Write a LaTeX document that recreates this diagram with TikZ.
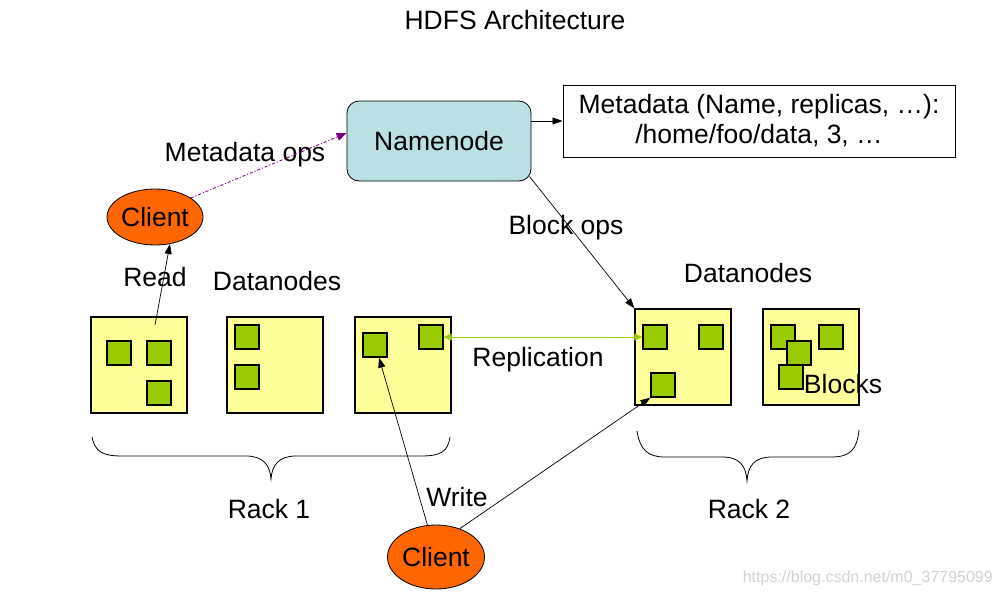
\documentclass[tikz,border=0pt]{standalone}
\usepackage{fontspec}
\setmainfont{Liberation Sans}
\usetikzlibrary{arrows.meta,shapes.geometric,calc}
\definecolor{nnblue}{HTML}{B9E0E3}
\definecolor{clorange}{HTML}{FF6600}
\definecolor{dnyellow}{HTML}{FFFF99}
\definecolor{blkgreen}{HTML}{99CC00}
\definecolor{mdpurple}{HTML}{800080}
\tikzset{
  lbl/.style={inner sep=0pt, text height=19pt, text depth=0pt},
  namebox/.style={draw, fill=nnblue, rounded corners=12pt, line width=0.8pt, minimum width=184pt, minimum height=80pt, inner sep=0pt, text height=19pt, text depth=0pt},
  metabox/.style={draw, fill=white, line width=1pt, minimum width=392pt, minimum height=72pt, inner sep=0pt, align=center},
  clientnode/.style={draw, fill=clorange, ellipse, line width=0.8pt, inner sep=0pt, text height=19pt, text depth=0pt},
  rackbox/.style={draw, fill=dnyellow, line width=1.3pt, minimum width=96pt, minimum height=96pt, inner sep=0pt},
  blk/.style={draw, fill=blkgreen, line width=1.3pt, minimum width=24pt, minimum height=24pt, inner sep=0pt},
  arr/.style={-{Triangle[length=10pt,width=7pt]}, line width=0.7pt},
  mdarr/.style={-{Triangle[length=10pt,width=8pt]}, draw=mdpurple, line width=0.9pt, dash pattern=on 3pt off 2pt on 1pt off 2pt},
  reparr/.style={{Triangle[length=8pt,width=7pt]}-{Triangle[length=8pt,width=7pt]}, draw=blkgreen, line width=1pt},
  bracestyle/.style={line width=0.8pt}
}
\begin{document}
\begin{tikzpicture}[x=1pt,y=-1pt,font=\fontsize{26.5}{30}\selectfont]
\useasboundingbox (0,0) rectangle (1001,597);

\node[lbl] (title) at (515,20) {HDFS Architecture};

\node[namebox] (nn) at (439,141) {Namenode};
\node[metabox] (meta) at (759,121) {Metadata (Name, replicas, \dots):\\/home/foo/data, 3, \dots};
\draw[arr] (nn.east |- meta.west) -- (meta.west);

\node[clientnode, minimum width=96pt, minimum height=56pt] (ct) at (155,217) {Client};
\node[clientnode, minimum width=97pt, minimum height=64pt] (cb) at (436,557) {Client};

% Rack 1
\node[rackbox] (r1a) at (139,365) {};
\node[rackbox] (r1b) at (275,365) {};
\node[rackbox] (r1c) at (403,365) {};
\node[blk] (b1a) at (119,353) {};
\node[blk] (b1b) at (159,353) {};
\node[blk] (b1c) at (159,393) {};
\node[blk] (b2a) at (247,337) {};
\node[blk] (b2b) at (247,377) {};
\node[blk] (b3a) at (375,345) {};
\node[blk] (b3b) at (431,337) {};

% Rack 2
\node[rackbox] (r2a) at (683,357) {};
\node[rackbox] (r2b) at (811,357) {};
\node[blk] (b4a) at (655,337) {};
\node[blk] (b4b) at (711,337) {};
\node[blk] (b4c) at (663,385) {};
\node[blk] (b5a) at (783,337) {};
\node[blk] (b5b) at (831,337) {};
\node[blk] (b5c) at (799,353) {};
\node[blk] (b5d) at (791,377) {};

% labels
\node[lbl] (lmd) at (245,152) {Metadata ops};
\node[lbl] (lread) at (155,277) {Read};
\node[lbl] (ldn1) at (277,281) {Datanodes};
\node[lbl] (lbo) at (566,225) {Block ops};
\node[lbl] (ldn2) at (748,273) {Datanodes};
\node[lbl] (lrep) at (538,357) {Replication};
\node[lbl] (lblk) at (843,384) {Blocks};
\node[lbl] (lwrite) at (457,497) {Write};
\node[lbl] (lr1) at (269,509) {Rack 1};
\node[lbl] (lr2) at (749,509) {Rack 2};

% connectors
\draw[mdarr] (ct.28) -- ($(nn.west)+(0,-8)$);
\draw[arr] ($(r1a.center)+(16,-40)$) -- (ct.-61);
\draw[arr] ($(nn.south east)+(-2,-5)$) -- (r2a.north west);
\draw[reparr] (b3b.east) -- (b4a.west);
\draw[arr] (cb.105) -- ($(b3a.south)+(4,0)$);
\draw[arr] (cb.50) -- (b4c.south west);

% braces
\draw[bracestyle] (92,437) .. controls (95,452) and (103,456) .. (122,456) -- (246,456) .. controls (263,456) and (270,465) .. (271,479) .. controls (272,465) and (279,456) .. (296,456) -- (421,456) .. controls (440,456) and (448,452) .. (450,437);
\draw[bracestyle] (637,431) .. controls (640,450) and (648,457) .. (665,457) -- (722,457) .. controls (740,457) and (746,466) .. (747,481) .. controls (748,466) and (754,457) .. (772,457) -- (831,457) .. controls (850,457) and (857,450) .. (859,430);

\node[anchor=east, inner sep=0pt, text=gray!35, font=\fontsize{16}{18}\selectfont] (wm) at (993,578) {https://blog.csdn.net/m0\_37795099};
\end{tikzpicture}
\end{document}
